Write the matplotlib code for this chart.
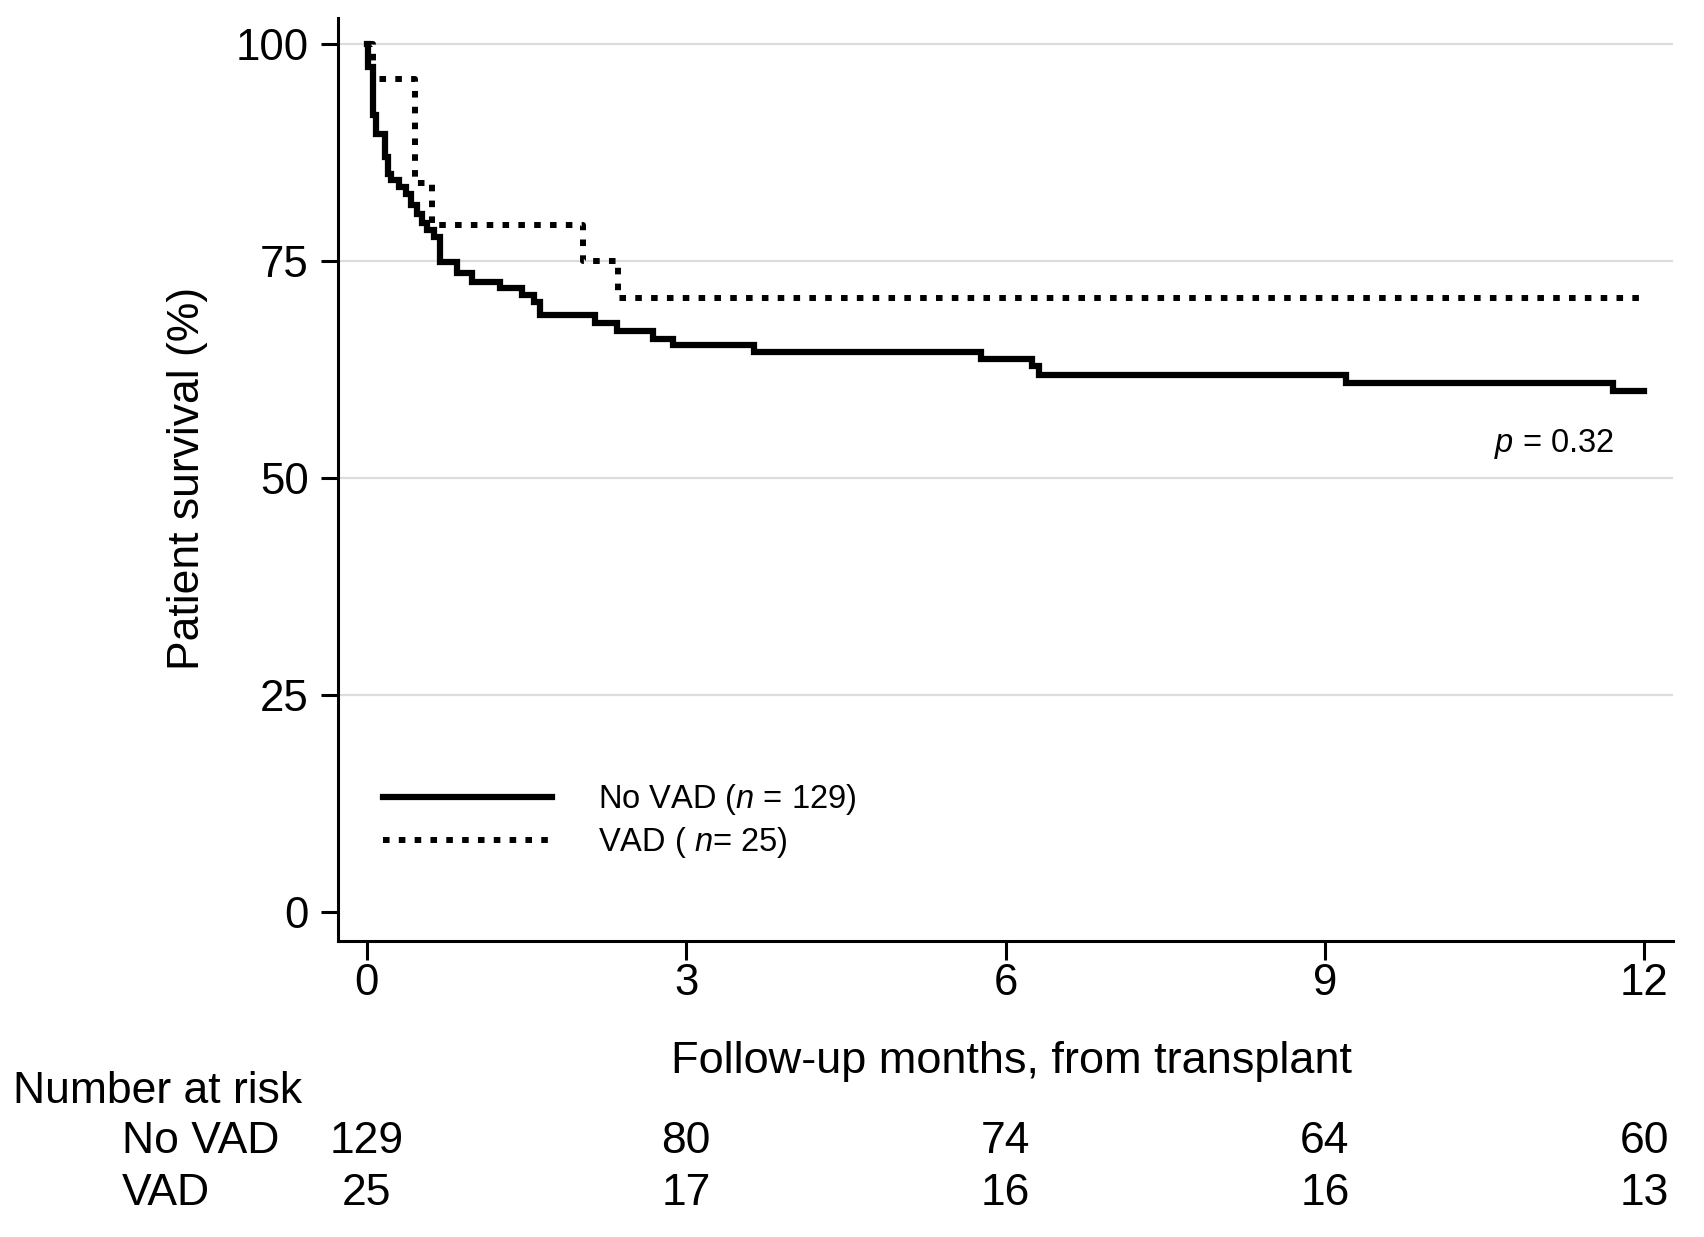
import matplotlib
matplotlib.use('Agg')
import matplotlib.pyplot as plt
from matplotlib import transforms

plt.rcParams['font.family'] = ['Liberation Sans', 'DejaVu Sans']
plt.rcParams['mathtext.fontset'] = 'custom'
plt.rcParams['mathtext.rm'] = 'Liberation Sans'
plt.rcParams['mathtext.it'] = 'Liberation Sans:italic'

# ---- data ----
novad_t = [0, 0.008, 0.015, 0.06, 0.09, 0.17, 0.20, 0.23, 0.30, 0.37, 0.42, 0.47,
           0.52, 0.57, 0.63, 0.69, 0.845, 0.985, 1.25, 1.46, 1.57, 1.63, 2.14,
           2.35, 2.69, 2.88, 3.64, 5.77, 6.25, 6.31, 9.20, 11.71, 12.0]
novad_s = [100, 98.8, 97.4, 91.9, 89.7, 87.0, 85.1, 84.4, 83.6, 82.8, 81.5, 80.5,
           79.4, 78.6, 77.8, 74.9, 73.6, 72.65, 71.9, 71.1, 70.35, 68.8, 67.9,
           67.0, 66.1, 65.3, 64.5, 63.7, 62.9, 61.9, 61.0, 60.0, 60.0]
vad_t = [0, 0.06, 0.45, 0.61, 2.03, 2.36, 12.0]
vad_s = [100, 96.0, 84.0, 79.2, 75.0, 70.8, 70.8]

labels = ['No VAD ($n$ = 129)', 'VAD ( $n$= 25)']
x_ticks = [0, 3, 6, 9, 12]
y_ticks = [0, 25, 50, 75, 100]
grid_levels = [25, 50, 75, 100]
risk_times = [0, 3, 6, 9, 12]
risk_groups = ['No VAD', 'VAD']
risk_novad = [129, 80, 74, 64, 60]
risk_vad = [25, 17, 16, 16, 13]
p_text = '$p$ = 0.32'

W, H = 1704, 1237
fig = plt.figure(figsize=(W / 100, H / 100), dpi=100)
ax = fig.add_axes([338 / W, 1 - 941 / H, (1673 - 338) / W, (941 - 18) / H])

for g in grid_levels:
    ax.axhline(g, color='#dcdcdc', lw=1.6, zorder=0)

ax.step(novad_t, novad_s, where='post', color='black', lw=4.5,
        solid_joinstyle='miter', label=labels[0], zorder=3)
ax.step(vad_t, vad_s, where='post', color='black', lw=4.3,
        linestyle=(0, (1.1, 1.55)), dash_capstyle='butt', label=labels[1], zorder=3)

ax.set_xlim(-0.27, 12.27)
ax.set_ylim(-3.31, 103.03)
ax.set_xticks(x_ticks)
ax.set_yticks(y_ticks)
for s in ['top', 'right']:
    ax.spines[s].set_visible(False)
for s in ['left', 'bottom']:
    ax.spines[s].set_linewidth(2.2)
ax.tick_params(axis='both', direction='out', width=2.2, labelsize=31.5)
ax.tick_params(axis='x', length=13.5, pad=2)
ax.tick_params(axis='y', length=12, pad=9)

fs = 32
ax.set_ylabel('Patient survival (%)', fontsize=fs, va='center')
ax.yaxis.set_label_coords((187 - 338) / 1335, (941 - 478) / 923)
ax.set_xlabel('Follow-up months, from transplant', fontsize=32.5, va='baseline')
ax.xaxis.set_label_coords((1012 - 338) / 1335, (941 - 1073) / 923)

ax.text(11.72, 53.9, p_text, ha='right', va='center', fontsize=23.5)

ax.legend(loc='upper left', bbox_to_anchor=(0.0335, 0.172), frameon=False,
          fontsize=23.5, handlelength=5.2, handletextpad=1.4, labelspacing=0.25,
          borderaxespad=0, borderpad=0)

# number at risk table
trans = transforms.blended_transform_factory(ax.transData, fig.transFigure)
fig.text(13 / W, 1 - 1103 / H, 'Number at risk', ha='left', va='baseline', fontsize=fs)
row_y = [1 - 1153 / H, 1 - 1205 / H]
for name, vals, yy in zip(risk_groups, [risk_novad, risk_vad], row_y):
    fig.text(122 / W, yy, name, ha='left', va='baseline', fontsize=fs)
    for t, n in zip(risk_times, vals):
        ax.text(t, yy, str(n), transform=trans, ha='center', va='baseline',
                fontsize=fs, clip_on=False)

fig.savefig('out.png', dpi=100)
